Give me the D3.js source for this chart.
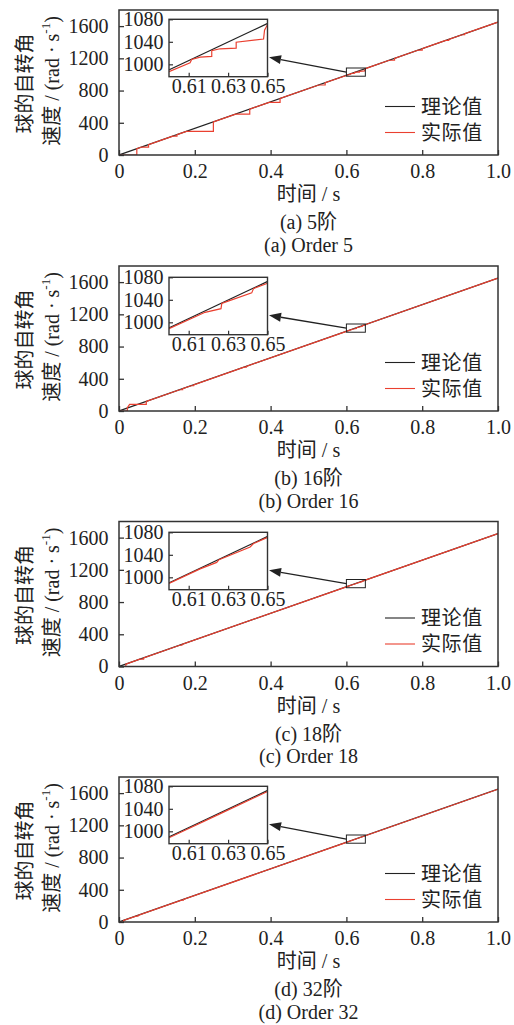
<!DOCTYPE html>
<html><head><meta charset="utf-8">
<script src="https://cdn.jsdelivr.net/npm/d3@7"></script>
<style>body{margin:0;background:#fff}svg{display:block}</style>
</head><body>
<svg id="chart" width="514" height="1025"></svg>
<script>
// ---------------- data ----------------
const xTicks = [0, 0.2, 0.4, 0.6, 0.8, 1.0];
const yTicks = [0, 400, 800, 1200, 1600];
const insetXTicks = [0.61, 0.63, 0.65];
const insetYTicks = [1000, 1040, 1080];
const xDomain = [0, 1];
const yDomain = [0, 1800];
const insetXDomain = [0.6, 0.65];
const insetYDomain = [978, 1080];
const legendLabels = ["理论值", "实际值"];
const xTitle = "时间 / s";
const yTitleLine1 = "球的自转角";
const yTitleLine2 = "速度 / (rad · s";
const captionsZh = ["(a) 5阶", "(b) 16阶", "(c) 18阶", "(d) 32阶"];
const captionsEn = ["(a) Order 5", "(b) Order 16", "(c) Order 18", "(d) Order 32"];

const theoryTime = [0, 1];
const theoryOmega = [0, 1650];

const order5Time = [0,0.047,0.047,0.060,0.078,0.078,0.142,0.153,0.153,0.178,0.249,0.249,0.308,0.345,0.345,0.396,0.425,0.425,0.527,0.544,0.544,0.600,0.6107,0.6115,0.6158,0.6217,0.6217,0.6259,0.6341,0.6341,0.6480,0.6485,0.6500,0.6520,0.713,0.727,0.727,0.790,0.800,0.800,0.862,0.870,0.870,0.905,0.912,0.912,1.0];
const order5Omega = [0,0,78,99,99,129,234,234,252,294,294,411,508,508,569,653,653,701,869,869,898,987,1002.7,1008.6,1012.7,1014.2,1024.3,1027.6,1028.7,1039.3,1044.9,1060.7,1070.7,1075.8,1176,1176,1200,1303,1303,1320,1422,1422,1436,1493,1493,1505,1650];

const order16Time = [0,0.022,0.022,0.028,0.072,0.072,0.160,0.168,0.168,0.190,0.197,0.197,0.330,0.336,0.336,0.600,0.6183,0.6264,0.6268,0.6293,0.6420,0.6429,0.6500,0.6530,1.0];
const order16Omega = [0,0,40,83,83,119,264,264,277,313.5,313.5,325,544.5,544.5,554.4,988.8,1017.8,1024.2,1033.6,1036.8,1052.3,1059.9,1069.5,1077.5,1650];

const order18Time = [0,0.018,0.018,0.055,0.065,0.065,0.160,0.166,0.166,0.600,0.6158,0.6242,0.6254,0.6412,0.6429,0.6500,0.6520,1.0];
const order18Omega = [0,0,30,91,91,107,264,264,274,989,1015,1026.5,1031.3,1053.9,1060,1071,1075.8,1650];

const order32Time = [0,0.012,0.012,0.045,0.050,0.050,0.165,0.170,0.170,0.600,0.625,0.650,1.0];
const order32Omega = [0,0,19,73,73,82.5,271,271,280.5,988.5,1029.7,1070.8,1648.5];

const actualTimes = [order5Time, order16Time, order18Time, order32Time];
const actualOmegas = [order5Omega, order16Omega, order18Omega, order32Omega];

// ---------------- layout ----------------
const plotLeft = 119, plotRight = 498, plotH = 145;
const panelTop = [10, 266, 521.5, 777];
const insetLeft = 169, insetRight = 267.5, insetH = 57.4;
const insetTopOff = [9.3, 11.3, 10.8, 9.3];
const serif = "'Liberation Serif','Noto Sans CJK SC',serif";
const black = "#222", red = "#ea4030", frameCol = "#333";

const svg = d3.select("#chart");
const defs = svg.append("defs");

const xs = d3.scaleLinear().domain(xDomain).range([plotLeft, plotRight]);
const ys = d3.scaleLinear().domain(yDomain).range([plotH, 0]);

defs.append("clipPath").attr("id", "mainClip")
  .append("rect").attr("x", plotLeft).attr("y", 0).attr("width", plotRight - plotLeft).attr("height", plotH);

const theoryData = d3.zip(theoryTime, theoryOmega);

panelTop.forEach((P, i) => {
  const g = svg.append("g").attr("transform", `translate(0,${P})`);
  const actualData = d3.zip(actualTimes[i], actualOmegas[i]);

  const line = d3.line().x(d => xs(d[0])).y(d => ys(d[1]));
  const lines = g.append("g").attr("clip-path", "url(#mainClip)");
  lines.append("path").attr("d", line(theoryData)).attr("fill", "none").attr("stroke", black).attr("stroke-width", 1.2);
  lines.append("path").attr("d", line(actualData)).attr("fill", "none").attr("stroke", red).attr("stroke-width", 1.2);

  // zoom box
  const bx0 = xs(insetXDomain[0]), bx1 = xs(insetXDomain[1]);
  const by0 = ys(insetYDomain[1]), by1 = ys(insetYDomain[0]);
  g.append("rect").attr("x", bx0).attr("y", by0).attr("width", bx1 - bx0).attr("height", by1 - by0)
    .attr("fill", "none").attr("stroke", black).attr("stroke-width", 1);

  // inset scales
  const it = insetTopOff[i];
  const ixs = d3.scaleLinear().domain(insetXDomain).range([insetLeft, insetRight]);
  const iys = d3.scaleLinear().domain(insetYDomain).range([it + insetH, it]);
  const clipId = "insetClip" + i;
  defs.append("clipPath").attr("id", clipId).append("rect")
    .attr("x", insetLeft).attr("y", it).attr("width", insetRight - insetLeft).attr("height", insetH);

  // arrow
  const tipX = insetRight + 1.5, tipY = it + 38;
  const tailX = bx0, tailY = (by0 + by1) / 2;
  const ang = Math.atan2(tailY - tipY, tailX - tipX);
  const hl = 12, hw = 4.5;
  const bxp = tipX + hl * Math.cos(ang), byp = tipY + hl * Math.sin(ang);
  g.append("line").attr("x1", tailX).attr("y1", tailY).attr("x2", bxp).attr("y2", byp)
    .attr("stroke", black).attr("stroke-width", 1.3);
  g.append("path").attr("d", `M${tipX},${tipY}L${bxp - hw * Math.sin(ang)},${byp + hw * Math.cos(ang)}L${bxp + hw * Math.sin(ang)},${byp - hw * Math.cos(ang)}Z`)
    .attr("fill", black);

  // inset
  g.append("rect").attr("x", insetLeft).attr("y", it).attr("width", insetRight - insetLeft).attr("height", insetH).attr("fill", "#fff");
  const iline = d3.line().x(d => ixs(d[0])).y(d => iys(d[1]));
  const ilg = g.append("g").attr("clip-path", `url(#${clipId})`);
  ilg.append("path").attr("d", iline(theoryData)).attr("fill", "none").attr("stroke", black).attr("stroke-width", 1.2);
  ilg.append("path").attr("d", iline(actualData)).attr("fill", "none").attr("stroke", red).attr("stroke-width", 1.2);

  const ixAxis = g.append("g").attr("transform", `translate(0,${it + insetH})`)
    .call(d3.axisBottom(ixs).tickValues(insetXTicks).tickFormat(d3.format(".2f")).tickSizeInner(-4).tickSizeOuter(0).tickPadding(2));
  const iyAxis = g.append("g").attr("transform", `translate(${insetLeft},0)`)
    .call(d3.axisLeft(iys).tickValues(insetYTicks).tickFormat(d3.format("d")).tickSizeInner(-4).tickSizeOuter(0).tickPadding(5.5));
  [ixAxis, iyAxis].forEach(a => {
    a.select(".domain").remove();
    a.selectAll("line").attr("stroke", frameCol).attr("stroke-width", 1.2);
    a.selectAll("text").attr("font-family", serif).attr("font-size", 20).attr("fill", "#222");
  });
  g.append("rect").attr("x", insetLeft).attr("y", it).attr("width", insetRight - insetLeft).attr("height", insetH)
    .attr("fill", "none").attr("stroke", frameCol).attr("stroke-width", 1.4);

  // main axes
  const xAxis = g.append("g").attr("transform", `translate(0,${plotH})`)
    .call(d3.axisBottom(xs).tickValues(xTicks).tickFormat(d => d === 0 ? "0" : d.toFixed(1)).tickSizeInner(-5).tickSizeOuter(0).tickPadding(9));
  const yAxis = g.append("g").attr("transform", `translate(${plotLeft},0)`)
    .call(d3.axisLeft(ys).tickValues(yTicks).tickFormat(d3.format("d")).tickSizeInner(-5).tickSizeOuter(0).tickPadding(10.5));
  [xAxis, yAxis].forEach(a => {
    a.select(".domain").remove();
    a.selectAll("line").attr("stroke", frameCol).attr("stroke-width", 1.3);
    a.selectAll("text").attr("font-family", serif).attr("font-size", 20).attr("fill", "#222");
  });
  g.append("rect").attr("x", plotLeft).attr("y", 0).attr("width", plotRight - plotLeft).attr("height", plotH)
    .attr("fill", "none").attr("stroke", frameCol).attr("stroke-width", 1.5);

  // legend
  const legY = [96.5, 122.5];
  const legCols = [black, red];
  legendLabels.forEach((lab, k) => {
    g.append("line").attr("x1", 385).attr("x2", 415).attr("y1", legY[k]).attr("y2", legY[k])
      .attr("stroke", legCols[k]).attr("stroke-width", 1.1);
    g.append("text").attr("x", 421).attr("y", legY[k] + 7).
      attr("font-family", serif).attr("font-size", 20).attr("letter-spacing", 0.6).attr("fill", "#222").text(lab);
  });

  // axis titles
  const cx = (plotLeft + plotRight) / 2;
  g.append("text").attr("x", cx).attr("y", 191).attr("text-anchor", "middle")
    .attr("font-family", serif).attr("font-size", 20).attr("fill", "#222").text(xTitle);
  g.append("text").attr("transform", `translate(25,${plotH / 2 + 1}) rotate(-90)`)
    .attr("text-anchor", "middle").attr("dominant-baseline", "central")
    .attr("font-family", serif).attr("font-size", 20).attr("fill", "#222").text(yTitleLine1);
  const t2 = g.append("text").attr("transform", `translate(52,${plotH / 2 - 1.5}) rotate(-90)`)
    .attr("text-anchor", "middle").attr("dominant-baseline", "central")
    .attr("font-family", serif).attr("font-size", 20).attr("fill", "#222");
  t2.append("tspan").text(yTitleLine2);
  t2.append("tspan").attr("font-size", 13).attr("dy", -7).text("-1");
  t2.append("tspan").attr("dy", 7).text(")");

  // captions
  g.append("text").attr("x", cx).attr("y", 219).attr("text-anchor", "middle")
    .attr("font-family", serif).attr("font-size", 20).attr("fill", "#222").text(captionsZh[i]);
  g.append("text").attr("x", cx).attr("y", 241.5).attr("text-anchor", "middle")
    .attr("font-family", serif).attr("font-size", 20).attr("fill", "#222").text(captionsEn[i]);
});
</script>
</body></html>
